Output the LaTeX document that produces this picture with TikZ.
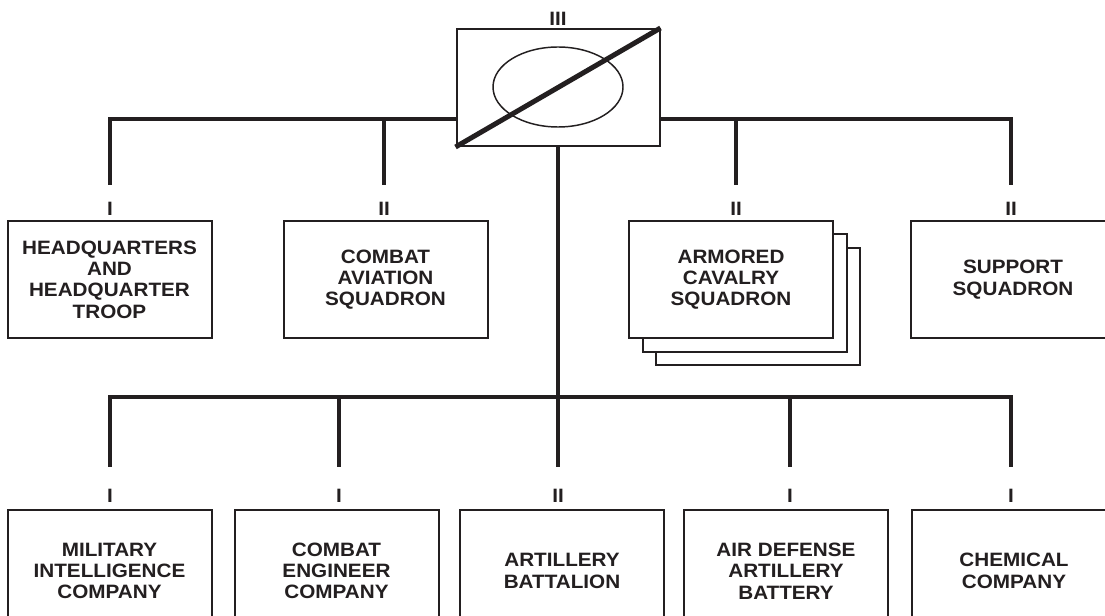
\documentclass[tikz,border=0pt]{standalone}
\usepackage{fontspec}
\setmainfont[FakeStretch=1.07]{Liberation Sans}
\usetikzlibrary{shapes.geometric}
\definecolor{ink}{HTML}{231F20}
\begin{document}
\begin{tikzpicture}[x=0.75pt,y=-0.75pt,
  unitbox/.style={draw=ink,line width=1.5pt,fill=white,rectangle,
    minimum width=153pt,minimum height=87.75pt,inner sep=0pt,
    align=center,text=ink,font=\fontsize{14.5pt}{16pt}\selectfont\bfseries},
  lowbox/.style={unitbox,minimum height=91.5pt},
  echelon/.style={inner sep=0pt,font=\fontsize{14.5pt}{16pt}\selectfont\bfseries,text=ink},
  link/.style={draw=ink,line width=3pt},
]
\useasboundingbox (0,0) rectangle (1105,616);
\clip (0,0) rectangle (1105,616);

% bus coordinates
\coordinate (busL) at (110,119);
\coordinate (busR) at (1011,119);
\coordinate (lbusL) at (110,397);
\coordinate (lbusR) at (1011,397);

% upper bus and drops
\draw[link,line cap=rect] (busL) -- (busR);
\coordinate (d1) at (110,185);
\coordinate (d2) at (384,185);
\coordinate (d3) at (736,185);
\coordinate (d4) at (1011,185);
\draw[link] (busL) -- (d1);
\draw[link] (384,119) -- (d2);
\draw[link] (736,119) -- (d3);
\draw[link] (busR) -- (d4);

% top symbol
\node[draw=ink,line width=1.5pt,fill=white,rectangle,minimum width=152.25pt,minimum height=87.75pt,inner sep=0pt] (top) at (558,87.5) {};
\node[draw=ink,line width=1.1pt,ellipse,minimum width=97.5pt,minimum height=60pt,inner sep=0pt] (oval) at (558,87) {};
\draw[draw=ink,line width=3.75pt] (top.south west) -- (top.north east);
\node[echelon,anchor=south] (topech) at (558,26) {III};

% central trunk and lower bus
\coordinate (art0) at (558,397);
\draw[link] (top.south) -- (art0);
\draw[link,line cap=rect] (lbusL) -- (lbusR);
\coordinate (e1) at (110,467);
\coordinate (e2) at (339,467);
\coordinate (e3) at (558,467);
\coordinate (e4) at (790,467);
\coordinate (e5) at (1011,467);
\draw[link] (lbusL) -- (e1);
\draw[link] (339,397) -- (e2);
\draw[link] (art0) -- (e3);
\draw[link] (790,397) -- (e4);
\draw[link] (lbusR) -- (e5);

% upper row units
\node[unitbox] (hq) at (109.5,279.5) {HEADQUARTERS\\AND\\HEADQUARTER\\TROOP};
\node[unitbox] (cas) at (385.5,279.5) {COMBAT\\AVIATION\\SQUADRON};
\node[unitbox] (acs3) at (758,306.5) {};
\node[unitbox] (acs2) at (744.5,293) {};
\node[unitbox] (acs) at (731,279.5) {ARMORED\\CAVALRY\\SQUADRON};
\node[unitbox] (sup) at (1013,279.5) {SUPPORT\\SQUADRON};

\node[echelon,anchor=south] at (110,216) {I};
\node[echelon,anchor=south] at (384,216) {II};
\node[echelon,anchor=south] at (736,216) {II};
\node[echelon,anchor=south] at (1011,216) {II};

% lower row units
\node[lowbox] (mi) at (109.5,571) {MILITARY\\INTELLIGENCE\\COMPANY};
\node[lowbox] (ce) at (336.5,571) {COMBAT\\ENGINEER\\COMPANY};
\node[lowbox] (art) at (562,571) {ARTILLERY\\BATTALION};
\node[lowbox] (ada) at (786,571) {AIR DEFENSE\\ARTILLERY\\BATTERY};
\node[lowbox] (chem) at (1014,571) {CHEMICAL\\COMPANY};

\node[echelon,anchor=south] at (110,503) {I};
\node[echelon,anchor=south] at (339,503) {I};
\node[echelon,anchor=south] at (558,503) {II};
\node[echelon,anchor=south] at (790,503) {I};
\node[echelon,anchor=south] at (1011,503) {I};
\end{tikzpicture}
\end{document}
